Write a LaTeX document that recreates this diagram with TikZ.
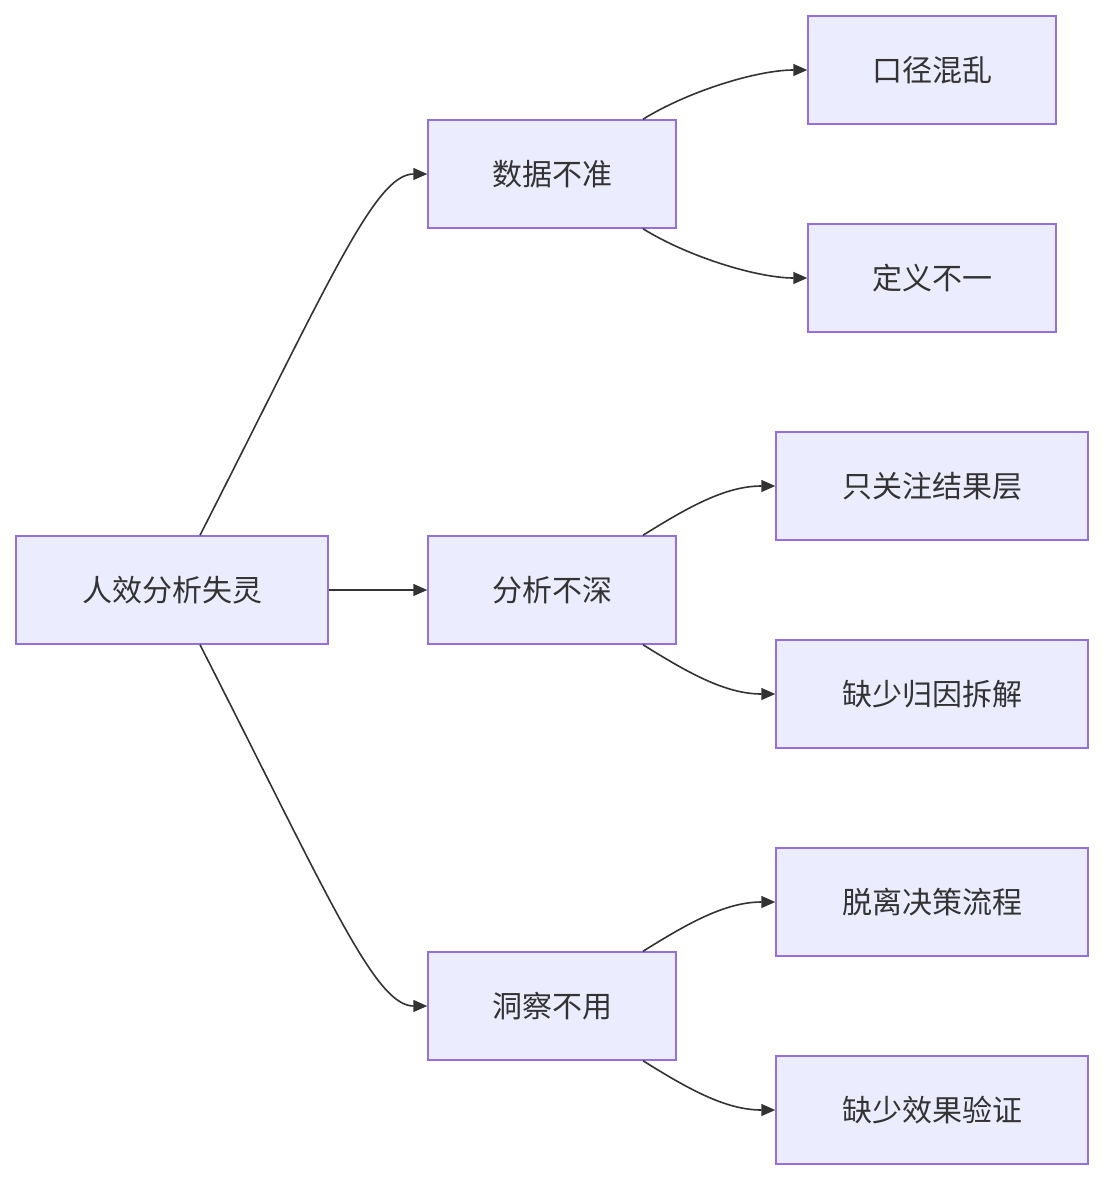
\documentclass[tikz,border=0pt]{standalone}
\usepackage{fontspec}
\setmainfont{Noto Sans CJK SC}
\usetikzlibrary{arrows.meta}
\definecolor{nfill}{HTML}{ECECFF}
\definecolor{nline}{HTML}{9370DB}
\definecolor{ink}{HTML}{333333}
\begin{document}
\begin{tikzpicture}[x=1pt,y=-1pt,
 box/.style={draw=nline,fill=nfill,line width=1.5pt,minimum height=108pt,text=ink,font=\fontsize{30}{36}\selectfont,inner sep=0},
 w1/.style={box,minimum width=312pt}, w2/.style={box,minimum width=248pt},
 e/.style={draw=ink,line width=1.6pt,-{Triangle[length=14pt,width=12pt]}}]
\useasboundingbox (0,0) rectangle (1104,1180);
\node[w1] (r) at (172,590) {人效分析失灵};
\node[w2] (a) at (552,174) {数据不准};
\node[w2] (b) at (552,590) {分析不深};
\node[w2] (c) at (552,1006) {洞察不用};
\node[w2] (a1) at (932,70) {口径混乱};
\node[w2] (a2) at (932,278) {定义不一};
\node[w1] (b1) at (932,486) {只关注结果层};
\node[w1] (b2) at (932,694) {缺少归因拆解};
\node[w1] (c1) at (932,902) {脱离决策流程};
\node[w1] (c2) at (932,1110) {缺少效果验证};
\draw[e] ([xshift=28pt]r.north) .. controls (330,280) and (375,174) .. (a.west);
\draw[e] (r.east) -- (b.west);
\draw[e] ([xshift=28pt]r.south) .. controls (330,900) and (375,1006) .. (c.west);
\foreach \p/\u/\d in {a/a1/a2,b/b1/b2,c/c1/c2}{
 \draw[e] ([xshift=91pt]\p.north) .. controls +(45,-28) and +(-50,0) .. (\u.west);
 \draw[e] ([xshift=91pt]\p.south) .. controls +(45,28) and +(-50,0) .. (\d.west);
}
\end{tikzpicture}
\end{document}
